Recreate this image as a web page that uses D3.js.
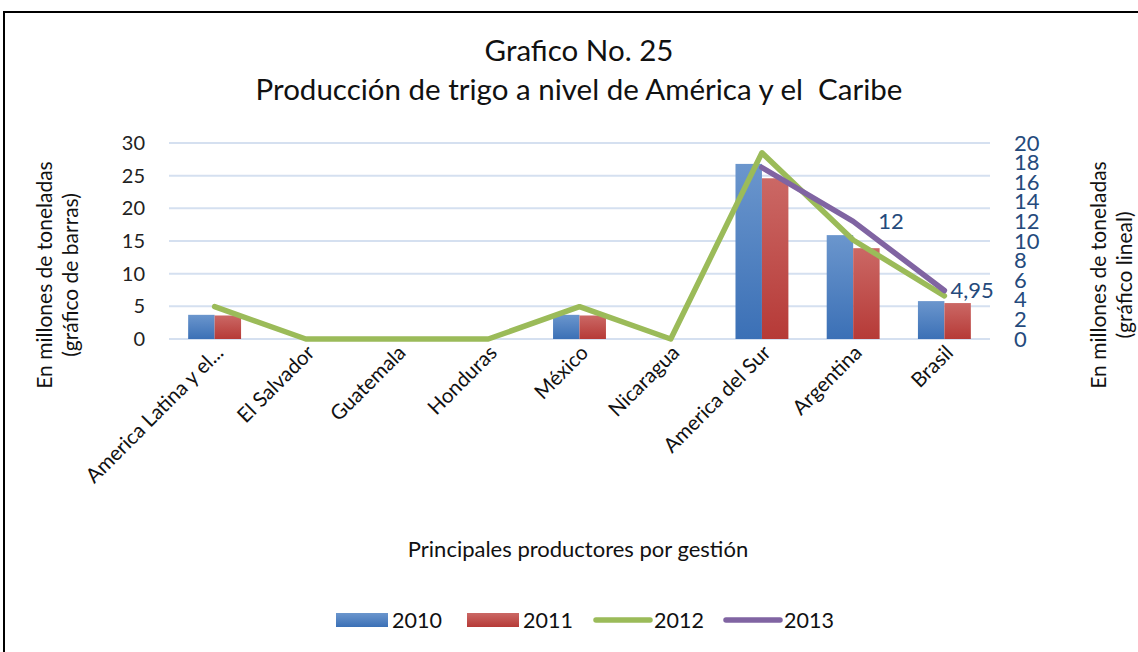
<!DOCTYPE html>
<html><head><meta charset="utf-8">
<script src="https://cdn.jsdelivr.net/npm/d3@7"></script>
<style>
html,body{margin:0;padding:0;background:#fff;}
svg{display:block;}
text{font-family:Lato,"Open Sans",sans-serif;white-space:pre;}
</style></head>
<body>
<svg id="chart" width="1138" height="652"></svg>
<script>
const categories = ["America Latina y el...", "El Salvador", "Guatemala", "Honduras", "México", "Nicaragua", "America del Sur", "Argentina", "Brasil"];
const v2010 = [3.7, 0, 0, 0, 3.7, 0, 26.8, 15.9, 5.8];
const v2011 = [3.6, 0, 0, 0, 3.6, 0, 24.6, 13.9, 5.5];
const v2012 = [3.3, 0, 0, 0, 3.3, 0, 19.0, 10.1, 4.4];
const v2013 = [null, null, null, null, null, null, 17.5, 12, 4.95];
const leftTicks = [0, 5, 10, 15, 20, 25, 30];
const rightTicks = [0, 2, 4, 6, 8, 10, 12, 14, 16, 18, 20];
const seriesNames = ["2010", "2011", "2012", "2013"];
const titleLines = ["Grafico No. 25", "Producción de trigo a nivel de América y el  Caribe"];

const svg = d3.select("#chart");
const plot = {x0: 169, x1: 990, y0: 143, y1: 339};

// border
svg.append("rect").attr("x", 4).attr("y", 12).attr("width", 1140).attr("height", 650)
  .attr("fill", "none").attr("stroke", "#000").attr("stroke-width", 2);

// gradients
const defs = svg.append("defs");
function grad(id, c1, c2) {
  const g = defs.append("linearGradient").attr("id", id).attr("x1", 0).attr("y1", 0).attr("x2", 0).attr("y2", 1);
  g.append("stop").attr("offset", "0%").attr("stop-color", c1);
  g.append("stop").attr("offset", "100%").attr("stop-color", c2);
}
grad("gBlue", "#6B96CD", "#3B70B6");
grad("gRed", "#CB6865", "#B63A37");

const x = d3.scaleBand().domain(categories).range([plot.x0, plot.x1]).paddingInner(0.42).paddingOuter(0.21);
const xs = d3.scaleBand().domain(["2010", "2011"]).range([0, x.bandwidth()]);
const yL = d3.scaleLinear().domain([0, 30]).range([plot.y1, plot.y0]);
const yR = d3.scaleLinear().domain([0, 20]).range([plot.y1, plot.y0]);

// gridlines
svg.append("g").selectAll("line").data(leftTicks).join("line")
  .attr("x1", plot.x0).attr("x2", plot.x1)
  .attr("y1", d => yL(d)).attr("y2", d => yL(d))
  .attr("stroke", "#D5E0F0").attr("stroke-width", 2);

// left axis
const axL = svg.append("g").attr("transform", `translate(${plot.x0 - 24},0)`)
  .call(d3.axisLeft(yL).tickValues(leftTicks).tickSize(0).tickPadding(0));
axL.select(".domain").remove();
axL.selectAll("text").attr("font-size", 20).attr("fill", "#222").attr("font-family", "Lato");

// right axis
const axR = svg.append("g").attr("transform", `translate(${plot.x1 + 24},0)`)
  .call(d3.axisRight(yR).tickValues(rightTicks).tickSize(0).tickPadding(0));
axR.select(".domain").remove();
axR.selectAll("text").attr("font-size", 22).attr("fill", "#254A7C").attr("font-family", "Lato");

// bars
const barData = [];
categories.forEach((c, i) => {
  barData.push({c, s: "2010", v: v2010[i], fill: "url(#gBlue)"});
  barData.push({c, s: "2011", v: v2011[i], fill: "url(#gRed)"});
});
svg.append("g").selectAll("rect").data(barData.filter(d => d.v > 0)).join("rect")
  .attr("x", d => x(d.c) + xs(d.s))
  .attr("width", xs.bandwidth())
  .attr("y", d => yL(d.v))
  .attr("height", d => yL(0) - yL(d.v))
  .attr("fill", d => d.fill);

// lines
const cx = c => x(c) + x.bandwidth() / 2;
const line = d3.line().defined(d => d.v != null).x(d => cx(d.c)).y(d => yR(d.v));
svg.append("path").datum(categories.map((c, i) => ({c, v: v2012[i]})))
  .attr("d", line).attr("fill", "none").attr("stroke", "#9BBB59").attr("stroke-width", 5.5)
  .attr("stroke-linejoin", "round").attr("stroke-linecap", "round");
svg.append("path").datum(categories.map((c, i) => ({c, v: v2013[i]})))
  .attr("d", line).attr("fill", "none").attr("stroke", "#8064A2").attr("stroke-width", 5.5)
  .attr("stroke-linejoin", "round").attr("stroke-linecap", "round");

// data labels for 2013
const fmt = v => String(v).replace(".", ",");
const labelDx = {"Argentina": 25, "Brasil": 6};
svg.append("g").selectAll("text").data(categories.map((c, i) => ({c, v: v2013[i]})).filter(d => d.c in labelDx))
  .join("text")
  .attr("x", d => cx(d.c) + labelDx[d.c]).attr("y", d => yR(d.v) + 8)
  .attr("font-size", 22).attr("fill", "#254A7C")
  .text(d => fmt(d.v));

// x labels
svg.append("g").selectAll("text").data(categories).join("text")
  .attr("transform", d => `translate(${cx(d) + 10},${plot.y1 + 15}) rotate(-45)`)
  .attr("text-anchor", "end").attr("font-size", 20.5).attr("fill", "#111")
  .text(d => d);

// title
svg.append("g").selectAll("text").data(titleLines).join("text")
  .attr("x", 579).attr("y", (d, i) => 61 + i * 39)
  .attr("text-anchor", "middle").attr("font-size", 29.5).attr("fill", "#111")
  .text(d => d);

// x axis title
svg.append("text").attr("x", 578).attr("y", 557).attr("text-anchor", "middle")
  .attr("font-size", 22).attr("fill", "#111").text("Principales productores por gestión");

// y titles
const yTitleL = ["En millones de toneladas", "(gráfico de barras)"];
svg.append("g").attr("transform", "translate(52,275) rotate(-90)").selectAll("text").data(yTitleL).join("text")
  .attr("x", 0).attr("y", (d, i) => i * 26).attr("text-anchor", "middle")
  .attr("font-size", 21).attr("fill", "#111").text(d => d);
const yTitleR = ["En millones de toneladas", "(gráfico lineal)"];
svg.append("g").attr("transform", "translate(1106,275) rotate(-90)").selectAll("text").data(yTitleR).join("text")
  .attr("x", 0).attr("y", (d, i) => i * 26).attr("text-anchor", "middle")
  .attr("font-size", 21).attr("fill", "#111").text(d => d);

// legend
const legend = svg.append("g");
const legItems = [
  {n: seriesNames[0], type: "rect", fill: "url(#gBlue)", x: 336},
  {n: seriesNames[1], type: "rect", fill: "url(#gRed)", x: 467},
  {n: seriesNames[2], type: "line", stroke: "#9BBB59", x: 596},
  {n: seriesNames[3], type: "line", stroke: "#8064A2", x: 726}
];
legItems.forEach(it => {
  const g = legend.append("g").attr("transform", `translate(${it.x},620)`);
  if (it.type === "rect") {
    g.append("rect").attr("x", 0).attr("y", -7).attr("width", 52).attr("height", 14).attr("fill", it.fill);
  } else {
    g.append("line").attr("x1", 0).attr("x2", 54).attr("y1", 0).attr("y2", 0)
      .attr("stroke", it.stroke).attr("stroke-width", 5.5).attr("stroke-linecap", "round");
  }
  g.append("text").attr("x", it.type === "rect" ? 56 : 58).attr("y", 8).attr("font-size", 21.5).attr("fill", "#111").text(it.n);
});
</script>
</body></html>
